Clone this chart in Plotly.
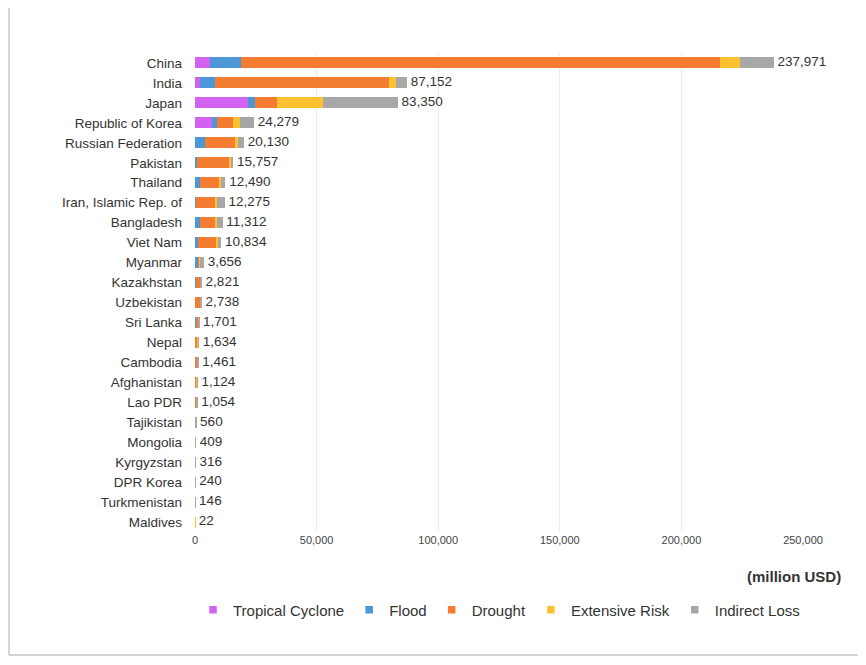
import plotly.graph_objects as go

countries = ["China", "India", "Japan", "Republic of Korea", "Russian Federation", "Pakistan",
             "Thailand", "Iran, Islamic Rep. of", "Bangladesh", "Viet Nam", "Myanmar", "Kazakhstan",
             "Uzbekistan", "Sri Lanka", "Nepal", "Cambodia", "Afghanistan", "Lao PDR", "Tajikistan",
             "Mongolia", "Kyrgyzstan", "DPR Korea", "Turkmenistan", "Maldives"]

tropical_cyclone = [6000, 2000, 21800, 6900, 0, 0, 0, 0, 100, 200, 100, 0,
                    0, 50, 0, 0, 0, 0, 0, 0, 0, 0, 0, 0]
flood = [13000, 6200, 2900, 2300, 4100, 800, 2000, 300, 2000, 1200, 1300, 400,
         150, 400, 400, 350, 200, 250, 100, 50, 50, 60, 20, 2]
drought = [196900, 71600, 9000, 6300, 12300, 13200, 8200, 8000, 6200, 7500, 300, 1700,
           2200, 800, 800, 700, 400, 350, 200, 200, 120, 80, 70, 15]
extensive_risk = [8300, 2900, 18900, 3000, 1400, 700, 400, 700, 800, 600, 400, 100,
                  50, 150, 150, 150, 300, 150, 100, 50, 50, 30, 20, 3]
indirect_loss = [13771, 4452, 30750, 5779, 2330, 1057, 1890, 3275, 2212, 1334, 1556, 621,
                 338, 301, 284, 261, 224, 304, 160, 109, 96, 70, 36, 2]
totals = [237971, 87152, 83350, 24279, 20130, 15757, 12490, 12275, 11312, 10834, 3656, 2821,
          2738, 1701, 1634, 1461, 1124, 1054, 560, 409, 316, 240, 146, 22]

x_ticks = [0, 50000, 100000, 150000, 200000, 250000]

series = [
    ("Tropical Cyclone", tropical_cyclone, "#d263f2"),
    ("Flood", flood, "#4c97d8"),
    ("Drought", drought, "#f47d31"),
    ("Extensive Risk", extensive_risk, "#fcc12e"),
    ("Indirect Loss", indirect_loss, "#a7a7a7"),
]

FONT = "Liberation Sans, Arial, sans-serif"

fig = go.Figure()
for name, vals, col in series:
    fig.add_trace(go.Bar(y=countries, x=vals, orientation="h", name=name,
                         marker=dict(color=col, line=dict(width=0)),
                         showlegend=False, hoverinfo="x+name"))
# legend entries as small squares
for name, vals, col in series:
    fig.add_trace(go.Scatter(x=[None], y=[None], mode="markers", name=name,
                             marker=dict(symbol="square", size=7.5, color=col)))

fig.add_trace(go.Scatter(y=countries, x=totals, mode="text",
                         text=[f" {v:,}" for v in totals], textposition="middle right",
                         textfont=dict(size=13.5, color="#333333", family=FONT),
                         showlegend=False, cliponaxis=False, hoverinfo="skip"))

frame = dict(color="#d3d3d3", width=2)

# page body has an 8px margin: figure occupies x 8..858, y 8..657
fig.update_layout(
    width=850, height=649,
    barmode="stack", bargap=0.45,
    margin=dict(l=187, r=55, t=45, b=125),
    paper_bgcolor="white", plot_bgcolor="white",
    font=dict(family=FONT, color="#333333"),
    legend=dict(orientation="h", x=0.5, xanchor="center", y=-0.163, yanchor="middle",
                font=dict(size=15, color="#333333"), itemwidth=30, traceorder="normal"),
    xaxis=dict(range=[0, 250000], tickvals=x_ticks, tickformat=",",
               showgrid=True, gridcolor="#ebebeb", gridwidth=1, zeroline=False,
               showline=False, tickfont=dict(size=11, color="#444444"), fixedrange=True),
    yaxis=dict(categoryorder="array", categoryarray=countries[::-1], showgrid=False,
               range=[-0.5, len(countries) - 0.5],
               showline=False, tickfont=dict(size=13.5, color="#333333"),
               ticklabelstandoff=12),
    annotations=[dict(text="<b>(million USD)</b>", xref="paper", yref="paper",
                      x=1.066, y=-0.092, xanchor="right", yanchor="middle",
                      showarrow=False, font=dict(size=15, color="#333333"))],
    shapes=[
        dict(type="line", xref="paper", yref="paper", x0=-0.306, x1=-0.306,
             y0=-0.257, y1=1.096, line=frame, layer="below"),
        dict(type="line", xref="paper", yref="paper", x0=-0.306, x1=1.09,
             y0=1.096, y1=1.096, line=frame, layer="below"),
        dict(type="line", xref="paper", yref="paper", x0=-0.306, x1=1.09,
             y0=-0.257, y1=-0.257, line=frame, layer="below"),
    ],
)

fig.write_html("out.html")
